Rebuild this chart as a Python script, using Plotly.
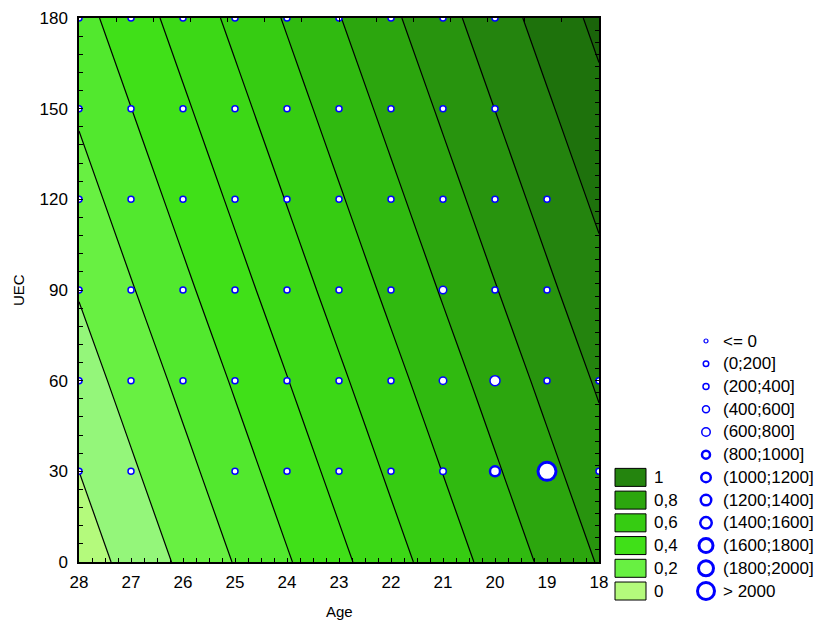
import plotly.graph_objects as go

# ---------------- data ----------------
ages = [28, 27, 26, 25, 24, 23, 22, 21, 20, 19, 18]
uec = [0, 30, 60, 90, 120, 150, 180]
# fitted surface value, one row per UEC level, columns follow `ages`
z_surface = [
    [-0.053, 0.033, 0.119, 0.205, 0.291, 0.377, 0.463, 0.549, 0.635, 0.721, 0.807],
    [0.000, 0.086, 0.172, 0.258, 0.344, 0.430, 0.516, 0.602, 0.688, 0.774, 0.860],
    [0.053, 0.139, 0.225, 0.311, 0.397, 0.483, 0.569, 0.655, 0.741, 0.827, 0.913],
    [0.107, 0.193, 0.279, 0.365, 0.451, 0.537, 0.623, 0.709, 0.795, 0.881, 0.967],
    [0.160, 0.246, 0.332, 0.418, 0.504, 0.590, 0.676, 0.762, 0.848, 0.934, 1.020],
    [0.213, 0.299, 0.385, 0.471, 0.557, 0.643, 0.729, 0.815, 0.901, 0.987, 1.073],
    [0.266, 0.352, 0.438, 0.524, 0.610, 0.696, 0.782, 0.868, 0.954, 1.040, 1.126],
]
contour_start, contour_end, contour_step = 0.0, 1.1, 0.1

# observed points (age, UEC, count)
pt_age = (
    [28, 27, 26, 25, 24, 23, 22, 21, 20]
    + [28, 27, 26, 25, 24, 23, 22, 21, 20]
    + [28, 27, 26, 25, 24, 23, 22, 21, 20, 19]
    + [28, 27, 26, 25, 24, 23, 22, 21, 20, 19]
    + [28, 27, 26, 25, 24, 23, 22, 21, 20, 19, 18]
    + [28, 27, 25, 24, 23, 22, 21, 20, 19, 18]
)
pt_uec = [180] * 9 + [150] * 9 + [120] * 10 + [90] * 10 + [60] * 11 + [30] * 10
pt_n = (
    [60, 110, 120, 130, 125, 115, 140, 150, 90]
    + [70, 120, 130, 140, 135, 130, 150, 160, 120]
    + [80, 125, 140, 150, 145, 140, 170, 180, 150, 60]
    + [90, 130, 150, 160, 150, 150, 190, 450, 170, 90]
    + [100, 140, 160, 170, 160, 150, 120, 550, 700, 110, 40]
    + [80, 120, 140, 150, 150, 160, 300, 900, 2150, 60]
)

size_labels = ["<= 0", "(0;200]", "(200;400]", "(400;600]", "(600;800]", "(800;1000]",
               "(1000;1200]", "(1200;1400]", "(1400;1600]", "(1600;1800]", "(1800;2000]", "> 2000"]
size_upper = [0, 200, 400, 600, 800, 1000, 1200, 1400, 1600, 1800, 2000, float("inf")]

level_labels = ["1", "0,8", "0,6", "0,4", "0,2", "0"]

# ---------------- styles ----------------
band_colors = ["#b4fa7c", "#94f67a", "#68f042", "#52e82e", "#40e018", "#3cd816", "#36cc12",
               "#30ba10", "#2ca60e", "#28940e", "#24840e", "#1e720c", "#1a640a"]
level_band = [10, 8, 6, 4, 2, 0]
cat_size = [4, 6, 6.5, 7.5, 10, 10, 10.5, 11, 12, 14, 15, 18]
cat_lw = [1.2, 1.5, 1.5, 1.5, 1.5, 2.5, 2.5, 2.5, 2.5, 3, 3, 3]
BLUE = "#0000ff"
FONT = "Liberation Sans, Arial, sans-serif"

# the page body adds an 8px margin; lay out in target pixels and shift
OFF = 8
W, H = 826 - OFF, 622 - OFF
PX_L, PX_R, PX_T, PX_B = 79 - OFF, 599 - OFF, 18 - OFF, 562 - OFF


def px(v):
    return v - OFF


def category(n):
    for i, ub in enumerate(size_upper):
        if n <= ub:
            return i
    return len(size_upper) - 1


cats = [category(n) for n in pt_n]

nb = len(band_colors)
colorscale = [[i / (nb - 1), c] for i, c in enumerate(band_colors)]

fig = go.Figure()

fig.add_trace(go.Contour(
    x=ages[::-1], y=uec, z=[row[::-1] for row in z_surface],
    autocontour=False,
    contours=dict(start=contour_start, end=contour_end, size=contour_step,
                  coloring="fill", showlines=True),
    line=dict(color="black", width=1.2),
    colorscale=colorscale, showscale=False, hoverinfo="skip",
))

fig.add_trace(go.Scatter(
    x=pt_age, y=pt_uec, mode="markers",
    marker=dict(color="white", opacity=1, size=[cat_size[c] for c in cats],
                line=dict(color=BLUE, width=[cat_lw[c] for c in cats])),
    showlegend=False, cliponaxis=True, hoverinfo="skip",
))

# size legend (on a pixel-scaled overlay axis)
leg_y0, leg_dy = 341, 22.73
leg_rows = [px(leg_y0 + leg_dy * i) for i in range(len(size_labels))]
leg_size = [4, 5.5, 6, 7, 8.5, 8, 9.5, 10.5, 11.5, 14, 15, 17]
fig.add_trace(go.Scatter(
    x=[px(706)] * len(size_labels), y=leg_rows, mode="markers",
    marker=dict(color="white", opacity=1, size=leg_size, line=dict(color=BLUE, width=cat_lw)),
    xaxis="x2", yaxis="y2", cliponaxis=False, showlegend=False, hoverinfo="skip",
))

# dummy trace to activate top/right tick axes
fig.add_trace(go.Scatter(x=[-7], y=[22], xaxis="x3", yaxis="y3", mode="markers",
                         marker=dict(opacity=0), showlegend=False, hoverinfo="skip"))

annotations = []
shapes = []
for i, lab in enumerate(size_labels):
    annotations.append(dict(x=px(721), y=leg_rows[i], xref="x2", yref="y2", text=lab,
                            showarrow=False, xanchor="left", yanchor="middle",
                            font=dict(family=FONT, size=17, color="black")))
for j, lab in enumerate(level_labels):
    yc = leg_rows[6 + j]
    shapes.append(dict(type="rect", xref="x2", yref="y2", x0=px(615), x1=px(646),
                       y0=yc - 9, y1=yc + 9,
                       fillcolor=band_colors[level_band[j]], line=dict(color="black", width=1)))
    annotations.append(dict(x=px(652), y=yc, xref="x2", yref="y2", text=lab, showarrow=False,
                            xanchor="left", yanchor="middle",
                            font=dict(family=FONT, size=17, color="black")))

annotations.append(dict(x=px(339), y=px(611), xref="x2", yref="y2", text="Age", showarrow=False,
                        font=dict(family=FONT, size=15, color="black")))
annotations.append(dict(x=px(18), y=px(290), xref="x2", yref="y2", text="UEC", showarrow=False,
                        textangle=-90, font=dict(family=FONT, size=15, color="black")))

axis_common = dict(showgrid=False, zeroline=False, showline=True, linecolor="black",
                   linewidth=1.5, mirror=True, ticks="inside", ticklen=4, tickcolor="black",
                   tickfont=dict(family=FONT, size=17, color="black"), automargin=False)

fig.update_layout(
    template="none",
    width=W, height=H,
    margin=dict(l=0, r=0, t=0, b=0),
    paper_bgcolor="white", plot_bgcolor="rgba(0,0,0,0)",
    showlegend=False,
    xaxis=dict(domain=[PX_L / W, PX_R / W], range=[28, 18], tickmode="array",
               tickvals=ages, ticktext=[str(a) for a in ages], anchor="y",
               minor=dict(dtick=0.25, ticks="inside", ticklen=4, tickcolor="black"),
               ticklabelstandoff=4, **axis_common),
    yaxis=dict(domain=[(H - PX_B) / H, (H - PX_T) / H], range=[0, 180], tickmode="array",
               tickvals=uec, anchor="x",
               minor=dict(dtick=6, ticks="inside", ticklen=4, tickcolor="black"),
               ticklabelstandoff=6, **axis_common),
    xaxis2=dict(domain=[0, 1], range=[0, W], visible=False, anchor="y2", fixedrange=True),
    yaxis2=dict(domain=[0, 1], range=[H, 0], visible=False, anchor="x2", fixedrange=True),
    xaxis3=dict(overlaying="x", anchor="y", side="top", range=[-14, 0], dtick=1,
                ticks="inside", ticklen=4, tickcolor="black", showticklabels=False,
                showgrid=False, zeroline=False, showline=False),
    yaxis3=dict(overlaying="y", anchor="x", side="right", range=[0, 45], dtick=1,
                ticks="inside", ticklen=4, tickcolor="black", showticklabels=False,
                showgrid=False, zeroline=False, showline=False),
    annotations=annotations,
    shapes=shapes,
)

fig.write_html("out.html")
